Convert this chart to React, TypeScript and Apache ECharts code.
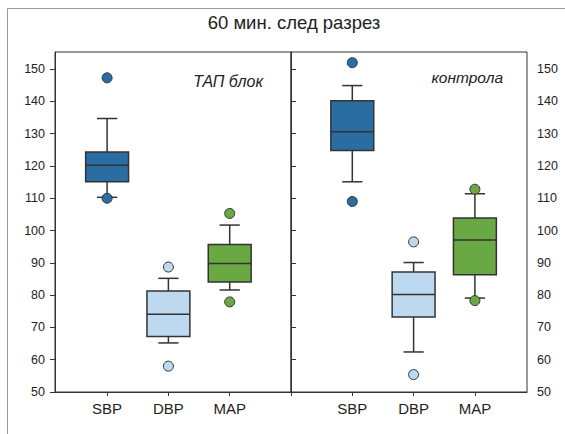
import React, { useEffect, useRef } from "react";
import * as echarts from "echarts";

const categories = ["SBP", "DBP", "MAP"];
const categoryPositions = [1, 2, 3];
// [lower whisker, Q1, median, Q3, upper whisker]
const tapBox = [
  [110.3, 115.1, 120.2, 124.3, 134.7],
  [65.2, 67.2, 74.1, 81.3, 85.2],
  [81.6, 84.1, 89.8, 95.7, 101.7],
];
const tapOutliers = [
  [147.3, 110.0],
  [88.7, 58.0],
  [105.3, 77.9],
];
const ctrlBox = [
  [115.1, 124.8, 130.6, 140.2, 144.9],
  [62.4, 73.2, 80.2, 87.2, 90.1],
  [79.1, 86.3, 97.1, 103.9, 111.4],
];
const ctrlOutliers = [
  [152.0, 109.0],
  [96.5, 55.4],
  [112.8, 78.3],
];
const yTicks = [50, 60, 70, 80, 90, 100, 110, 120, 130, 140, 150];
const titleText = "60 мин. след разрез";
const panelLabels = ["ТАП блок", "контрола"];

const COLORS = ["#2a6da3", "#bcd9ef", "#6aa843"];
const STROKE = "#333333";
const FONT = "Liberation Sans, Arial, sans-serif";

function boxRenderer(params: any, api: any) {
  const x = api.value(0);
  const lo = api.value(1), q1 = api.value(2), med = api.value(3), q3 = api.value(4), hi = api.value(5);
  const halfBox = 0.35;
  const halfCap = 0.165;
  const pLo = api.coord([x, lo]);
  const pQ1 = api.coord([x, q1]);
  const pMed = api.coord([x, med]);
  const pQ3 = api.coord([x, q3]);
  const pHi = api.coord([x, hi]);
  const bl = api.coord([x - halfBox, q1])[0];
  const br = api.coord([x + halfBox, q1])[0];
  const cl = api.coord([x - halfCap, q1])[0];
  const cr = api.coord([x + halfCap, q1])[0];
  const cx = pMed[0];
  const ls = { stroke: STROKE, lineWidth: 1.5 };
  return {
    type: "group",
    children: [
      { type: "line", shape: { x1: cx, y1: pHi[1], x2: cx, y2: pQ3[1] }, style: ls },
      { type: "line", shape: { x1: cx, y1: pQ1[1], x2: cx, y2: pLo[1] }, style: ls },
      { type: "line", shape: { x1: cl, y1: pHi[1], x2: cr, y2: pHi[1] }, style: ls },
      { type: "line", shape: { x1: cl, y1: pLo[1], x2: cr, y2: pLo[1] }, style: ls },
      {
        type: "rect",
        shape: { x: bl, y: pQ3[1], width: br - bl, height: pQ1[1] - pQ3[1] },
        style: { fill: COLORS[params.dataIndex], stroke: STROKE, lineWidth: 1.5 },
      },
      { type: "line", shape: { x1: bl, y1: pMed[1], x2: br, y2: pMed[1] }, style: ls },
    ],
  };
}

function boxData(box: number[][]) {
  return box.map((b, i) => [categoryPositions[i], ...b]);
}

function outlierData(out: number[][]) {
  const res: any[] = [];
  out.forEach((vals, i) => {
    vals.forEach((v) => {
      res.push({ value: [categoryPositions[i], v], itemStyle: { color: COLORS[i] } });
    });
  });
  return res;
}

export default function App() {
  const ref = useRef<HTMLDivElement>(null);
  useEffect(() => {
    document.body.style.margin = "0";
    const chart = echarts.init(ref.current!, null, { renderer: "svg" });
    const yAxisCommon = (pos: "left" | "right") => ({
      type: "value" as const,
      position: pos,
      min: 50,
      max: 155.3,
      interval: 10,
      axisLine: { show: true, lineStyle: { color: STROKE, width: 1 } },
      axisTick: { show: true, length: 5, customValues: yTicks, lineStyle: { color: STROKE } },
      axisLabel: { customValues: yTicks, color: "#222", fontSize: 12.5, fontFamily: FONT, margin: 10 },
      splitLine: { show: false },
    });
    const xAxisCommon = (min: number, max: number, ticks: number[]) => ({
      type: "value" as const,
      min,
      max,
      axisLine: { show: true, lineStyle: { color: STROKE, width: 1 } },
      axisTick: { show: true, length: 4, customValues: ticks, lineStyle: { color: STROKE } },
      axisLabel: {
        customValues: categoryPositions,
        formatter: (v: number) => categories[Math.round(v) - 1] ?? "",
        color: "#222",
        fontSize: 15,
        fontFamily: FONT,
        margin: 9,
      },
      splitLine: { show: false },
    });
    chart.setOption({
      animation: false,
      backgroundColor: "#ffffff",
      grid: [
        { left: 55, top: 52, width: 236, height: 340, show: true, borderColor: STROKE, borderWidth: 1 },
        { left: 291, top: 52, width: 236, height: 340, show: true, borderColor: STROKE, borderWidth: 1 },
      ],
      xAxis: [
        { gridIndex: 0, ...xAxisCommon(0.15, 4, [1, 2, 3, 4]) },
        { gridIndex: 1, ...xAxisCommon(0, 3.85, [0, 1, 2, 3]) },
      ],
      yAxis: [
        { gridIndex: 0, ...yAxisCommon("left") },
        { gridIndex: 1, ...yAxisCommon("right") },
      ],
      series: [
        { type: "custom", xAxisIndex: 0, yAxisIndex: 0, renderItem: boxRenderer, data: boxData(tapBox), z: 2 },
        { type: "custom", xAxisIndex: 1, yAxisIndex: 1, renderItem: boxRenderer, data: boxData(ctrlBox), z: 2 },
        {
          type: "scatter", xAxisIndex: 0, yAxisIndex: 0, symbolSize: 10, z: 5,
          itemStyle: { borderColor: STROKE, borderWidth: 1, opacity: 1 },
          data: outlierData(tapOutliers),
        },
        {
          type: "scatter", xAxisIndex: 1, yAxisIndex: 1, symbolSize: 10, z: 5,
          itemStyle: { borderColor: STROKE, borderWidth: 1, opacity: 1 },
          data: outlierData(ctrlOutliers),
        },
      ],
      graphic: [
        {
          type: "rect", z: -1, silent: true,
          shape: { x: 7.5, y: 8.5, width: 700, height: 600 },
          style: { fill: "none", stroke: "#999999", lineWidth: 1 },
        },
        {
          type: "text", x: 294, y: 22,
          style: { text: titleText, fill: "#222", font: `18.5px ${FONT}`, textAlign: "center", textVerticalAlign: "middle" },
        },
        {
          type: "text", x: 263, y: 81,
          style: { text: panelLabels[0], fill: "#222", font: `italic 16px ${FONT}`, textAlign: "right", textVerticalAlign: "middle" },
        },
        {
          type: "text", x: 503, y: 77,
          style: { text: panelLabels[1], fill: "#222", font: `italic 15.5px ${FONT}`, textAlign: "right", textVerticalAlign: "middle" },
        },
      ],
    });
    return () => chart.dispose();
  }, []);
  return <div ref={ref} style={{ width: 565, height: 434 }} />;
}
